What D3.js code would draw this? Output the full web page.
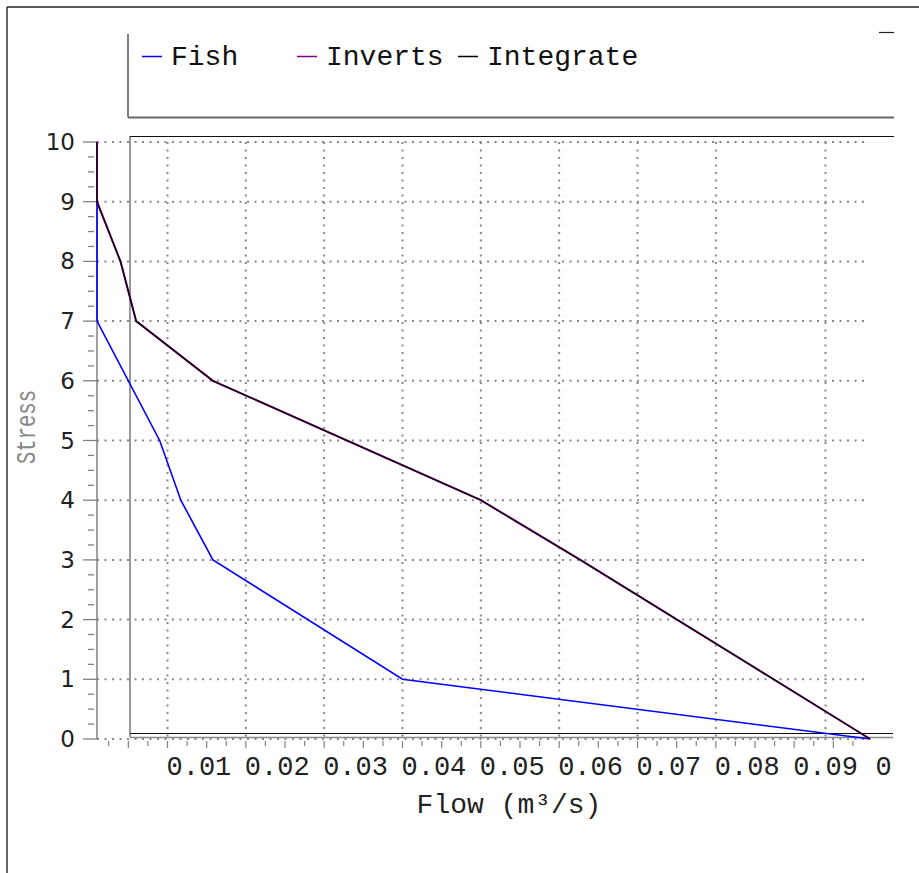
<!DOCTYPE html>
<html>
<head>
<meta charset="utf-8">
<script src="https://cdn.jsdelivr.net/npm/d3@7"></script>
<style>
  html, body { margin: 0; padding: 0; background: #fff; }
  svg { display: block; }
</style>
</head>
<body>
<svg id="chart" width="919" height="873"></svg>
<script>
// Stress levels (y) and the flows (m³/s) at which each curve reaches them
const fishStress      = [10, 7, 5, 4, 3, 1, 0];
const fishFlow        = [0.001, 0.001, 0.009, 0.0117, 0.0158, 0.04, 0.0997];
const invertsStress   = [10, 9, 8, 7, 6, 4, 3, 0];
const invertsFlow     = [0.001, 0.001, 0.004, 0.006, 0.0158, 0.05, 0.0627, 0.0997];
const integrateStress = [10, 9, 8, 7, 6, 4, 3, 0];
const integrateFlow   = [0.001, 0.001, 0.004, 0.006, 0.0158, 0.05, 0.0627, 0.0997];

const seriesNames  = ["Fish", "Inverts", "Integrate"];
const seriesColors = ["#0000ff", "#800080", "#000000"];

const xTickValues = [0.01, 0.02, 0.03, 0.04, 0.05, 0.06, 0.07, 0.08, 0.09, 0.1];
const xTickLabels = ["0.01", "0.02", "0.03", "0.04", "0.05", "0.06", "0.07", "0.08", "0.09", "0"];
const xGridValues = [0.01, 0.02, 0.03, 0.04, 0.05, 0.06, 0.07, 0.08, 0.094];
const yTickValues = [0, 1, 2, 3, 4, 5, 6, 7, 8, 9, 10];

const xTitle = "Flow (m³/s)";
const yTitle = "Stress";

const svg = d3.select("#chart");
const mono = "'Liberation Mono', 'DejaVu Sans Mono', monospace";
const sans = "'DejaVu Sans', sans-serif";

const x = d3.scaleLinear().domain([0.001, 0.1]).range([97, 872.5]);
const y = d3.scaleLinear().domain([0, 10]).range([739, 142]);

// outer frame (top and left edges)
svg.append("line").attr("x1", 7).attr("x2", 919).attr("y1", 7).attr("y2", 7)
  .attr("stroke", "#222").attr("stroke-width", 1.5);
svg.append("line").attr("x1", 7).attr("x2", 7).attr("y1", 7).attr("y2", 873)
  .attr("stroke", "#333").attr("stroke-width", 1.5);

// legend panel
svg.append("line").attr("x1", 128).attr("x2", 128).attr("y1", 34).attr("y2", 117.5)
  .attr("stroke", "#555").attr("stroke-width", 1.5);
svg.append("line").attr("x1", 128).attr("x2", 894).attr("y1", 117.5).attr("y2", 117.5)
  .attr("stroke", "#666").attr("stroke-width", 2);
svg.append("line").attr("x1", 879).attr("x2", 894).attr("y1", 32.5).attr("y2", 32.5)
  .attr("stroke", "#222").attr("stroke-width", 1.2);

const legendX = [142, 297, 458];
const legend = svg.append("g");
seriesNames.forEach((name, i) => {
  legend.append("line")
    .attr("x1", legendX[i]).attr("x2", legendX[i] + 20)
    .attr("y1", 56.5).attr("y2", 56.5)
    .attr("stroke", seriesColors[i]).attr("stroke-width", 1.5);
  legend.append("text")
    .attr("x", legendX[i] + 29).attr("y", 65)
    .attr("font-family", mono).attr("font-size", 28).attr("fill", "#111")
    .text(name);
});

// inner panel frame
svg.append("line").attr("x1", 130).attr("x2", 130).attr("y1", 136).attr("y2", 737)
  .attr("stroke", "#777").attr("stroke-width", 1.5);
svg.append("line").attr("x1", 130).attr("x2", 894).attr("y1", 136.5).attr("y2", 136.5)
  .attr("stroke", "#111").attr("stroke-width", 1.2);
svg.append("line").attr("x1", 130).attr("x2", 893).attr("y1", 733.5).attr("y2", 733.5)
  .attr("stroke", "#111").attr("stroke-width", 1.2);
svg.append("line").attr("x1", 130).attr("x2", 893).attr("y1", 737.5).attr("y2", 737.5)
  .attr("stroke", "#888").attr("stroke-width", 1.5);

// dotted grid
const grid = svg.append("g").attr("stroke", "#888").attr("stroke-width", 2)
  .attr("stroke-dasharray", "2,5.5");
grid.selectAll("line.h").data(yTickValues).join("line").attr("class", "h")
  .attr("x1", x(0.001)).attr("x2", 868)
  .attr("y1", d => y(d)).attr("y2", d => y(d));
grid.selectAll("line.v").data(xGridValues).join("line").attr("class", "v")
  .attr("x1", d => x(d)).attr("x2", d => x(d))
  .attr("y1", y(10)).attr("y2", y(0));

// y axis
const yAxis = svg.append("g");
yAxis.append("line").attr("x1", x(0.001)).attr("x2", x(0.001))
  .attr("y1", y(10)).attr("y2", y(0)).attr("stroke", "#808080").attr("stroke-width", 1.5);
const yMinor = d3.range(0.25, 10, 0.25).filter(v => Math.abs(v - Math.round(v)) > 1e-6);
yAxis.selectAll("line.minor").data(yMinor).join("line").attr("class", "minor")
  .attr("x1", 88).attr("x2", 94).attr("y1", d => y(d)).attr("y2", d => y(d))
  .attr("stroke", "#808080").attr("stroke-width", 1.3);
yAxis.selectAll("line.major").data(yTickValues).join("line").attr("class", "major")
  .attr("x1", 83).attr("x2", 97).attr("y1", d => y(d)).attr("y2", d => y(d))
  .attr("stroke", "#808080").attr("stroke-width", 1.3);
yAxis.selectAll("text").data(yTickValues).join("text")
  .attr("x", 75).attr("y", d => y(d) + 8)
  .attr("text-anchor", "end")
  .attr("font-family", sans).attr("font-size", 23).attr("fill", "#222")
  .text(d => d);

// x axis minor ticks
const xMinor = d3.range(1, 40).map(k => k * 0.0025);
svg.append("g").selectAll("line").data(xMinor).join("line")
  .attr("x1", d => x(d)).attr("x2", d => x(d))
  .attr("y1", 741).attr("y2", (d, i) => ((i + 1) % 2 === 0 ? 748 : 746))
  .attr("stroke", "#808080").attr("stroke-width", 1.2);

// x tick labels
svg.append("g")
  .selectAll("text").data(xTickValues).join("text")
  .attr("x", (d, i) => x(d) - 1 + (i === xTickValues.length - 1 ? 4 : 0)).attr("y", 775)
  .attr("font-family", mono).attr("font-size", 27).attr("fill", "#222")
  .text((d, i) => xTickLabels[i]);

// axis titles
svg.append("text").attr("x", 509).attr("y", 813).attr("text-anchor", "middle")
  .attr("font-family", mono).attr("font-size", 28).attr("fill", "#222")
  .text(xTitle);
svg.append("text")
  .attr("transform", "translate(35,427) rotate(-90)")
  .attr("text-anchor", "middle")
  .attr("font-family", mono).attr("font-size", 27).attr("fill", "#888")
  .attr("textLength", 74).attr("lengthAdjust", "spacingAndGlyphs")
  .text(yTitle);

// curves
const line = d3.line().x(d => x(d[0])).y(d => y(d[1]));
const series = [
  { flow: fishFlow, stress: fishStress, color: seriesColors[0], width: 1.6, opacity: 1 },
  { flow: invertsFlow, stress: invertsStress, color: seriesColors[1], width: 2, opacity: 1 },
  { flow: integrateFlow, stress: integrateStress, color: seriesColors[2], width: 1.4, opacity: 0.85 }
];
svg.append("g").selectAll("path").data(series).join("path")
  .attr("d", s => line(s.flow.map((f, i) => [f, s.stress[i]])))
  .attr("fill", "none")
  .attr("stroke", s => s.color)
  .attr("stroke-width", s => s.width)
  .attr("stroke-opacity", s => s.opacity)
  .attr("stroke-linejoin", "miter");
</script>
</body>
</html>
